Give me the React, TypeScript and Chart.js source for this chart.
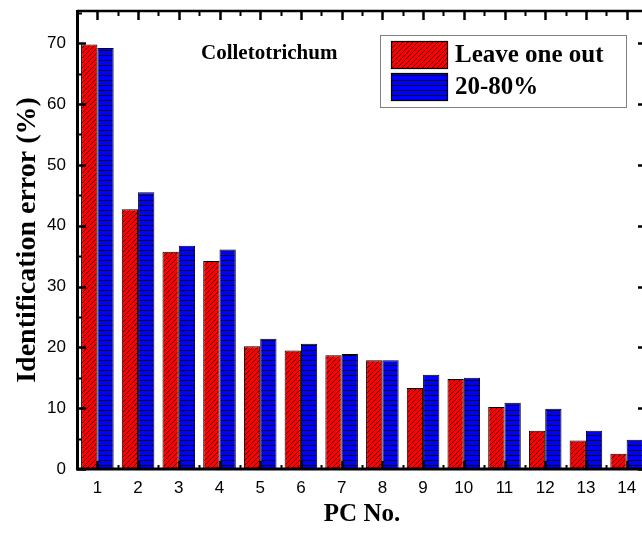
import React, { useEffect, useRef } from 'react';
import { Chart, registerables } from 'chart.js';

Chart.register(...registerables);

const CATEGORIES = ['1', '2', '3', '4', '5', '6', '7', '8', '9', '10', '11', '12', '13', '14'];
const LEAVE_ONE_OUT = [69.8, 42.7, 35.7, 34.2, 20.2, 19.5, 18.7, 17.9, 13.3, 14.8, 10.2, 6.3, 4.7, 2.5];
const SPLIT_20_80 = [69.2, 45.5, 36.7, 36.1, 21.4, 20.6, 18.9, 17.9, 15.5, 15.0, 10.9, 9.9, 6.3, 4.8];
const Y_TICKS = [0, 10, 20, 30, 40, 50, 60, 70];
const Y_MINOR_TICKS = [5, 15, 25, 35, 45, 55, 65, 75];
const SERIES_LABELS = ['Leave one out', '20-80%'];
const PANEL_LABEL = 'Colletotrichum';
const X_TITLE = 'PC No.';
const Y_TITLE = 'Identification error (%)';

const SERIF = '"Liberation Serif", "Times New Roman", Times, serif';
const SANS = '"Liberation Sans", Arial, Helvetica, sans-serif';

function makeHatch(ctx: CanvasRenderingContext2D): CanvasPattern {
  const c = document.createElement('canvas');
  c.width = 5;
  c.height = 5;
  const g = c.getContext('2d')!;
  g.fillStyle = '#ff0000';
  g.fillRect(0, 0, 5, 5);
  g.strokeStyle = '#3a0000';
  g.lineWidth = 0.9;
  g.beginPath();
  g.moveTo(-1, 6);
  g.lineTo(6, -1);
  g.moveTo(-1, 1);
  g.lineTo(1, -1);
  g.moveTo(4, 6);
  g.lineTo(6, 4);
  g.stroke();
  return ctx.createPattern(c, 'repeat')!;
}

function makeLines(ctx: CanvasRenderingContext2D): CanvasPattern {
  const c = document.createElement('canvas');
  c.width = 4;
  c.height = 5;
  const g = c.getContext('2d')!;
  g.fillStyle = '#0000ff';
  g.fillRect(0, 0, 4, 5);
  g.fillStyle = '#000022';
  g.fillRect(0, 0, 4, 1);
  return ctx.createPattern(c, 'repeat')!;
}

const decorPlugin = {
  id: 'decor',
  afterDatasetsDraw(chart: any) {
    const { ctx, chartArea } = chart;
    const { left, right, top, bottom } = chartArea;
    const xs = chart.scales.x;
    const ys = chart.scales.y;
    ctx.save();
    ctx.strokeStyle = '#000';
    // frame
    ctx.lineWidth = 2.5;
    ctx.beginPath();
    ctx.moveTo(left, top);
    ctx.lineTo(right, top);
    ctx.moveTo(right, top);
    ctx.lineTo(right, bottom);
    ctx.stroke();
    ctx.lineWidth = 3;
    ctx.beginPath();
    ctx.moveTo(left + 0.5, top - 1);
    ctx.lineTo(left + 0.5, bottom + 1.5);
    ctx.moveTo(left - 1, bottom);
    ctx.lineTo(right + 1, bottom);
    ctx.stroke();
    // x ticks (inward top and bottom)
    const n = CATEGORIES.length;
    for (let i = 0; i < n; i++) {
      const px = Math.round(xs.getPixelForValue(i)) + 0.5;
      ctx.lineWidth = 2.5;
      ctx.beginPath();
      ctx.moveTo(px, top);
      ctx.lineTo(px, top + 9);
      ctx.moveTo(px, bottom);
      ctx.lineTo(px, bottom - 8);
      ctx.stroke();
      if (i < n - 1) {
        const mx = Math.round(xs.getPixelForValue(i + 0.5)) + 0.5;
        ctx.lineWidth = 2;
        ctx.beginPath();
        ctx.moveTo(mx, top);
        ctx.lineTo(mx, top + 5);
        ctx.moveTo(mx, bottom);
        ctx.lineTo(mx, bottom - 4);
        ctx.stroke();
      }
    }
    // y ticks (inward left and right)
    Y_TICKS.forEach((v) => {
      const py = Math.round(ys.getPixelForValue(v)) + 0.5;
      ctx.lineWidth = 2.5;
      ctx.beginPath();
      ctx.moveTo(left, py);
      ctx.lineTo(left + 9, py);
      ctx.moveTo(right, py);
      ctx.lineTo(right - 9, py);
      ctx.stroke();
    });
    Y_MINOR_TICKS.forEach((v) => {
      const py = Math.round(ys.getPixelForValue(v)) + 0.5;
      ctx.lineWidth = 2;
      ctx.beginPath();
      ctx.moveTo(left, py);
      ctx.lineTo(left + 5, py);
      ctx.moveTo(right, py);
      ctx.lineTo(right - 5, py);
      ctx.stroke();
    });
    // panel label
    ctx.fillStyle = '#000';
    ctx.font = `bold 21px ${SERIF}`;
    ctx.textAlign = 'left';
    ctx.textBaseline = 'middle';
    ctx.fillText(PANEL_LABEL, 201, 54);
    // legend
    ctx.lineWidth = 1;
    ctx.strokeStyle = '#808080';
    ctx.strokeRect(380.5, 35.5, 246, 72);
    const ds = chart.data.datasets;
    const sw = [41, 73];
    for (let k = 0; k < 2; k++) {
      ctx.fillStyle = ds[k].backgroundColor;
      ctx.fillRect(391, sw[k], 57, 27);
      ctx.strokeStyle = '#000';
      ctx.lineWidth = 1.2;
      ctx.strokeRect(391.5, sw[k] + 0.5, 56, 27);
      ctx.fillStyle = '#000';
      ctx.font = `bold 25px ${SERIF}`;
      ctx.fillText(SERIES_LABELS[k], 455, sw[k] + 15);
    }
    ctx.restore();
  },
};

export default function App() {
  const ref = useRef<HTMLCanvasElement>(null);
  useEffect(() => {
    const canvas = ref.current!;
    const ctx = canvas.getContext('2d')!;
    const chart = new Chart(canvas, {
      type: 'bar',
      data: {
        labels: CATEGORIES,
        datasets: [
          {
            label: SERIES_LABELS[0],
            data: LEAVE_ONE_OUT,
            backgroundColor: makeHatch(ctx) as any,
            borderColor: '#000',
            borderWidth: 1,
            categoryPercentage: 0.8,
            barPercentage: 1,
          },
          {
            label: SERIES_LABELS[1],
            data: SPLIT_20_80,
            backgroundColor: makeLines(ctx) as any,
            borderColor: '#000',
            borderWidth: 1,
            categoryPercentage: 0.8,
            barPercentage: 1,
          },
        ],
      },
      options: {
        animation: false,
        responsive: false,
        devicePixelRatio: 1,
        layout: { padding: { top: 11, right: 13, left: 0, bottom: 0 } },
        plugins: { legend: { display: false }, tooltip: { enabled: false } },
        scales: {
          x: {
            type: 'category',
            grid: { display: false, drawTicks: false },
            border: { display: false },
            ticks: {
              font: { family: SANS, size: 17 },
              color: '#000',
              padding: 9,
              maxRotation: 0,
              autoSkip: false,
            },
            title: {
              display: true,
              text: X_TITLE,
              color: '#000',
              font: { family: SERIF, size: 25, weight: 'bold' },
              padding: { top: 0, bottom: 4 },
            },
            afterFit: (s: any) => {
              s.height = 65;
              s.paddingLeft = 0;
              s.paddingRight = 0;
            },
          },
          y: {
            min: 0,
            max: 75.3,
            grid: { display: false, drawTicks: false },
            border: { display: false },
            ticks: {
              font: { family: SANS, size: 17 },
              color: '#000',
              padding: 11,
            },
            afterBuildTicks: (s: any) => {
              s.ticks = Y_TICKS.map((v) => ({ value: v }));
            },
            title: {
              display: true,
              text: Y_TITLE,
              color: '#000',
              font: { family: SERIF, size: 28, weight: 'bold' },
              padding: { top: 11, bottom: 0 },
            },
            afterFit: (s: any) => {
              s.width = 77;
              s.paddingTop = 0;
              s.paddingBottom = 0;
            },
          },
        },
      },
      plugins: [decorPlugin],
    });
    return () => chart.destroy();
  }, []);
  return (
    <div
      style={{
        position: 'fixed',
        left: 0,
        top: 0,
        width: 642,
        height: 534,
        overflow: 'hidden',
        background: '#fff',
      }}
    >
      <canvas ref={ref} width={660} height={534} style={{ display: 'block' }} />
    </div>
  );
}
